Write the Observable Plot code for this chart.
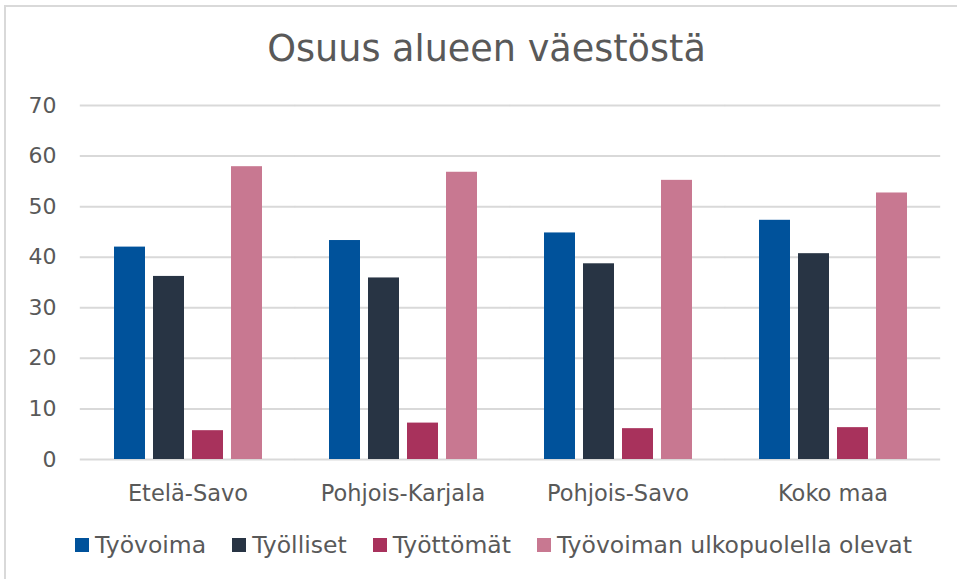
<!DOCTYPE html>
<html>
<head>
<meta charset="utf-8">
<script src="https://cdn.jsdelivr.net/npm/d3@7"></script>
<script src="https://cdn.jsdelivr.net/npm/@observablehq/plot@0.6"></script>
<style>
  html, body { margin: 0; padding: 0; background: #ffffff; }
  #wrap { position: relative; width: 957px; height: 579px; overflow: hidden; font-family: "DejaVu Sans", Verdana, sans-serif; background: #fff; }
  #frame { position: absolute; left: 4px; top: 5px; width: 980px; height: 600px; border-top: 2px solid #d9d9d9; border-left: 2px solid #d9d9d9; box-sizing: border-box; }
  #title { position: absolute; left: 16px; width: 941px; top: 29px; height: 40px; line-height: 40px; text-align: center; font-size: 36.6px; color: #595959; }
  #chart { position: absolute; left: 0; top: 85px; }
  #legend { position: absolute; left: 30px; width: 927px; top: 528px; display: flex; justify-content: center; }
  .lg-swatches { justify-content: center; font-family: "DejaVu Sans", Verdana, sans-serif !important; font-size: 23.5px !important; color: #595959; margin: 0 !important; flex-wrap: nowrap !important; white-space: nowrap; }
  .lg-swatch { margin-right: 26px !important; }
  .lg-swatch:last-child { margin-right: 0 !important; }
  .lg-swatch svg { margin-right: 6px !important; }
</style>
</head>
<body>
<div id="wrap">
  <div id="frame"></div>
  <div id="title"></div>
  <div id="chart"></div>
  <div id="legend"></div>
</div>
<script>
const titleText = "Osuus alueen väestöstä";
const categories = ["Etelä-Savo", "Pohjois-Karjala", "Pohjois-Savo", "Koko maa"];
const series = ["Työvoima", "Työlliset", "Työttömät", "Työvoiman ulkopuolella olevat"];
const colors = ["#00529b", "#283444", "#a8325c", "#c87891"];
const tyovoima = [42.0, 43.3, 44.8, 47.3];
const tyolliset = [36.2, 35.9, 38.7, 40.7];
const tyottomat = [5.7, 7.2, 6.1, 6.3];
const ulkopuolella = [57.9, 56.8, 55.2, 52.7];
const yTicks = [0, 10, 20, 30, 40, 50, 60, 70];

const seriesValues = [tyovoima, tyolliset, tyottomat, ulkopuolella];
const data = [];
categories.forEach((c, i) => {
  series.forEach((s, j) => {
    data.push({category: c, series: s, value: seriesValues[j][i]});
  });
});

document.getElementById("title").textContent = titleText;

const plot = Plot.plot({
  width: 957,
  height: 424,
  marginTop: 20,
  marginLeft: 79,
  marginRight: 17,
  marginBottom: 50,
  style: {fontFamily: "'DejaVu Sans', Verdana, sans-serif", background: "transparent", overflow: "visible"},
  fx: {domain: categories, paddingInner: 0.307, paddingOuter: 0.153, label: null},
  x: {domain: series, paddingInner: 0.21, paddingOuter: 0, axis: null},
  y: {domain: [0, 70], label: null},
  color: {domain: series, range: colors},
  marks: [
    Plot.ruleY(yTicks, {stroke: "#d9d9d9", strokeWidth: 2, insetLeft: -33.2, insetRight: -33.2}),
    Plot.barY(data, {fx: "category", x: "series", y: "value", fill: "series"}),
    Plot.axisY({ticks: yTicks, tickSize: 0, tickPadding: 57, fontSize: 22, fill: "#595959", label: null}),
    Plot.axisFx({anchor: "bottom", tickSize: 0, tickPadding: 26, fontSize: 22.5, fill: "#595959", label: null})
  ]
});
document.getElementById("chart").appendChild(plot);

const legend = Plot.legend({
  color: {domain: series, range: colors},
  legend: "swatches",
  swatchSize: 14,
  className: "lg"
});
document.getElementById("legend").appendChild(legend);
</script>
</body>
</html>
